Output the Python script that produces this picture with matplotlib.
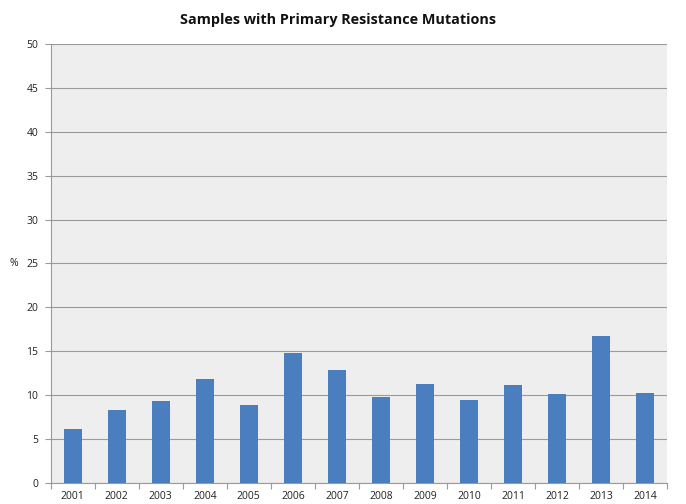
import matplotlib.pyplot as plt
import numpy as np

years = ["2001", "2002", "2003", "2004", "2005", "2006", "2007",
         "2008", "2009", "2010", "2011", "2012", "2013", "2014"]
pct_primary = [6.2, 8.3, 9.3, 11.8, 8.9, 14.8, 12.9,
               9.8, 11.3, 9.5, 11.2, 10.1, 16.7, 10.2]

plt.rcParams["font.family"] = ["Open Sans", "DejaVu Sans"]

fig = plt.figure(figsize=(6.86, 5.04), dpi=100)
ax = fig.add_axes([0.0739, 0.0417, 0.8984, 0.871])
ax.set_facecolor("#eeeeee")

x = np.arange(len(years))
ax.bar(x, pct_primary, width=0.41, color="#4a7ebf", zorder=3)

ax.set_xlim(-0.5, len(years) - 0.5)
ax.set_ylim(0, 50)
ax.set_yticks(np.arange(0, 51, 5))
ax.yaxis.grid(True, color="#9a9a9a", linewidth=0.8, zorder=1)

# category ticks sit between the bars, labels centred under them
ax.set_xticks(np.arange(-0.5, len(years), 1.0))
ax.set_xticklabels([])
ax.set_xticks(x, minor=True)
ax.set_xticklabels(years, minor=True)
ax.tick_params(axis="x", which="minor", length=0, pad=6, labelsize=7.5, labelcolor="#222222")
ax.tick_params(axis="x", which="major", length=4, color="#9a9a9a", direction="out")
ax.tick_params(axis="y", length=4, color="#9a9a9a", labelsize=7.5, labelcolor="#222222", pad=5)

for side in ("top", "right"):
    ax.spines[side].set_visible(False)
for side in ("left", "bottom"):
    ax.spines[side].set_color("#9a9a9a")
    ax.spines[side].set_linewidth(0.8)

# axis unit sits just left of the "25" tick label
fig.text(0.027, ax.transData.transform((0, 25))[1] / fig.bbox.height, "%",
         ha="right", va="center", fontsize=7.5, color="#222222")

fig.text(0.492, 0.96, "Samples with Primary Resistance Mutations", ha="center", va="center",
         fontsize=10.4, fontweight="bold", color="#111111")

fig.savefig("out.png", dpi=100)
